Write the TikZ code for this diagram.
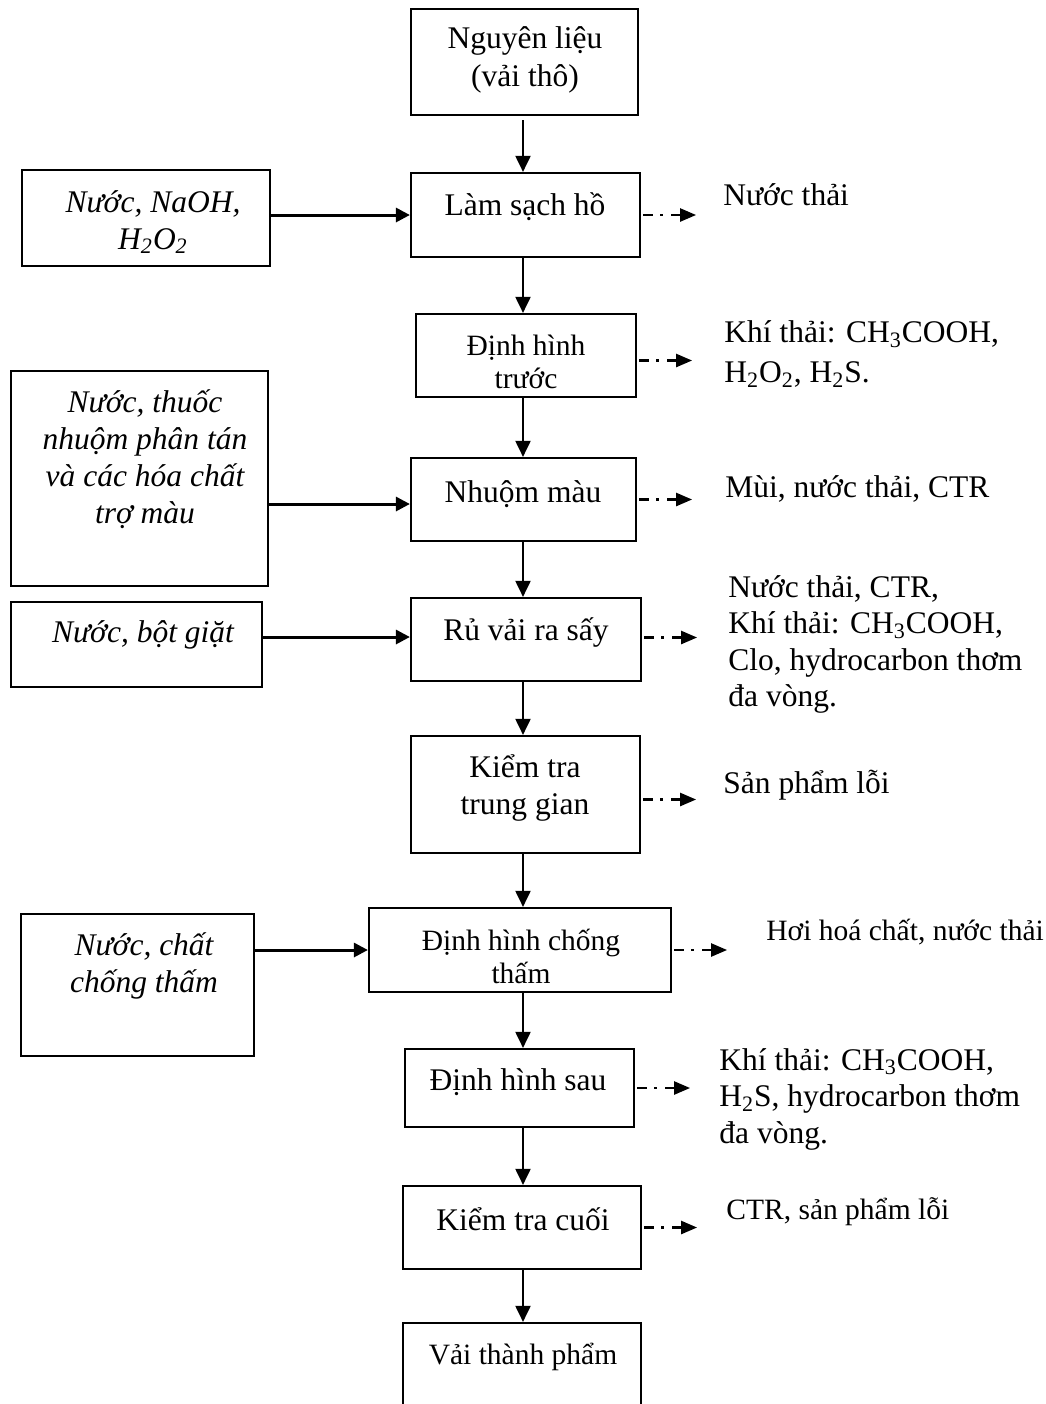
\documentclass[tikz,border=0pt]{standalone}
\usepackage{fontspec}
\setmainfont{Liberation Serif}
\usetikzlibrary{arrows.meta,fit}

\tikzset{
  box/.style={draw, line width=1.1pt, inner sep=0pt, rectangle},
  txt/.style={align=center, inner sep=0pt, yshift=-1pt, font=\fontsize{15.75pt}{18.75pt}\selectfont},
  txtsm/.style={align=center, inner sep=0pt, yshift=-1pt, font=\fontsize{14.75pt}{16.5pt}\selectfont},
  rtxt/.style={align=left, anchor=west, inner sep=0pt, yshift=-1pt, font=\fontsize{15.75pt}{18.25pt}\selectfont},
  rtxtsm/.style={align=left, anchor=west, inner sep=0pt, yshift=-1pt, font=\fontsize{14.75pt}{17pt}\selectfont},
  itx/.style={align=center, inner sep=0pt, yshift=-1pt, font=\fontsize{15.75pt}{18.5pt}\selectfont\itshape},
  flow/.style={line width=1pt, -{Triangle[length=8pt,width=7.5pt]}},
  feed/.style={line width=1.5pt, -{Triangle[length=7pt,width=7pt]}},
  waste/.style={line width=1.2pt, dash pattern=on 5pt off 3.5pt on 1.5pt off 4pt, -{Triangle[length=8pt,width=6.5pt]}}
}

\begin{document}
\begin{tikzpicture}[x=0.5pt,y=-0.5pt]
\useasboundingbox (0,0) rectangle (1045,1404);
\clip (0,0) rectangle (1045,1404);

% main process chain
\node[box, fit={(411,9) (638,115)}] (b1) {};
\node[box, fit={(411,173) (640,257)}] (b2) {};
\node[box, fit={(416,314) (636,397)}] (b3) {};
\node[box, fit={(411,458) (636,541)}] (b4) {};
\node[box, fit={(411,598) (641,681)}] (b5) {};
\node[box, fit={(411,736) (640,853)}] (b6) {};
\node[box, fit={(369,908) (671,992)}] (b7) {};
\node[box, fit={(405,1049) (634,1127)}] (b8) {};
\node[box, fit={(403,1186) (641,1269)}] (b9) {};
\node[box, fit={(403,1323) (641,1460)}] (b10) {};

% inputs
\node[box, fit={(22,170) (270,266)}] (lb1) {};
\node[box, fit={(11,371) (268,586)}] (lb2) {};
\node[box, fit={(11,602) (262,687)}] (lb3) {};
\node[box, fit={(21,914) (254,1056)}] (lb4) {};

% box labels
\node[txt] (t1) at (525,58) {Nguyên liệu\\(vải thô)};
\node[txt] (t2) at (525,205) {Làm sạch hồ};
\node[txtsm] (t3) at (526,360) {Định hình\\trước};
\node[txt] (t4) at (523,492) {Nhuộm màu};
\node[txt] (t5) at (526,630) {Rủ vải ra sấy};
\node[txt] (t6) at (525,786) {Kiểm tra\\trung gian};
\node[txtsm] (t7) at (521,954) {Định hình chống\\thấm};
\node[txt] (t8) at (518,1080) {Định hình sau};
\node[txt] (t9) at (523,1217) {Kiểm tra cuối};
\node[txtsm] (t10) at (523,1355) {Vải thành phẩm};

\node[itx] (l1) at (153,220) {Nước, NaOH,\\H\textsubscript{2}O\textsubscript{2}};
\node[itx] (l2) at (145,457) {Nước, thuốc\\nhuộm phân tán\\và các hóa chất\\trợ màu};
\node[itx] (l3) at (143,633) {Nước, bột giặt};
\node[itx] (l4) at (144,963.5) {Nước, chất\\chống thấm};

% emissions
\node[rtxt] (r2) at (723,193) {Nước thải};
\node[rtxt, font=\fontsize{15.75pt}{20pt}\selectfont] (r3) at (724,352) {Khí thải: CH\textsubscript{3}COOH,\\H\textsubscript{2}O\textsubscript{2}, H\textsubscript{2}S.};
\node[rtxt] (r4) at (725,487) {Mùi, nước thải, CTR};
\node[rtxt] (r5) at (728,642.5) {Nước thải, CTR,\\Khí thải: CH\textsubscript{3}COOH,\\Clo, hydrocarbon thơm\\đa vòng.};
\node[rtxt] (r6) at (723,783) {Sản phẩm lỗi};
\node[rtxtsm] (r7) at (766,930) {Hơi hoá chất, nước thải};
\node[rtxt] (r8) at (719,1097) {Khí thải: CH\textsubscript{3}COOH,\\H\textsubscript{2}S, hydrocarbon thơm\\đa vòng.};
\node[rtxtsm] (r9) at (726,1210) {CTR, sản phẩm lỗi};

% flow spine
\coordinate (spine) at (523,0);
\draw[flow] ([yshift=-2pt]b1.south -| spine) -- (b2.north -| spine);
\draw[flow] (b2.south -| spine) -- (b3.north -| spine);
\draw[flow] (b3.south -| spine) -- (b4.north -| spine);
\draw[flow] (b4.south -| spine) -- (b5.north -| spine);
\draw[flow] (b5.south -| spine) -- (b6.north -| spine);
\draw[flow] (b6.south -| spine) -- (b7.north -| spine);
\draw[flow] (b7.south -| spine) -- (b8.north -| spine);
\draw[flow] (b8.south -| spine) -- (b9.north -| spine);
\draw[flow] (b9.south -| spine) -- (b10.north -| spine);

% feeds
\draw[feed] (lb1.east |- b2.west) -- (b2.west);
\draw[feed] (lb2.east |- 0,504) coordinate (f2) -- (b4.west |- f2);
\draw[feed] (lb3.east |- 0,637) coordinate (f3) -- (b5.west |- f3);
\draw[feed] (lb4.east |- b7.west) -- (b7.west);

% waste streams
\draw[waste] (b2.east) ++(2,0) -- ++(53,0) coordinate (o2);
\draw[waste] (b3.east) ++(2,5) -- ++(53,0) coordinate (o3);
\draw[waste] (b4.east) ++(2,0) -- ++(53,0) coordinate (o4);
\draw[waste] (b5.east) ++(2,-2) -- ++(53,0) coordinate (o5);
\draw[waste] (b6.east) ++(2,5) -- ++(53,0) coordinate (o6);
\draw[waste] (b7.east) ++(2,0) -- ++(53,0) coordinate (o7);
\draw[waste] (b8.east) ++(2,0) -- ++(53,0) coordinate (o8);
\draw[waste] (b9.east) ++(2,0) -- ++(53,0) coordinate (o9);
\end{tikzpicture}
\end{document}
